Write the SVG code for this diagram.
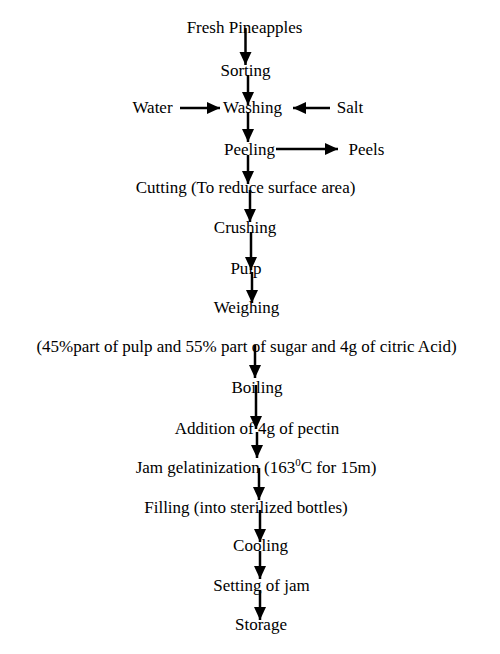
<svg xmlns="http://www.w3.org/2000/svg" width="500" height="654" viewBox="0 0 500 654">
<style>
text{font-family:"Liberation Serif","Times New Roman",serif;font-size:17px;fill:#000;text-anchor:middle}
.c line{stroke:#000;stroke-width:2.5;marker-end:url(#ah)}
</style>
<defs>
<marker id="ah" markerUnits="userSpaceOnUse" markerWidth="14" markerHeight="14" viewBox="0 0 14 14" refX="13" refY="7" orient="auto">
<path d="M0,1 L13,7 L0,13 Z" fill="#000"/>
</marker>
</defs>
<rect width="500" height="654" fill="#fff"/>
<g id="n1"><text x="244.5" y="32.5">Fresh Pineapples</text></g>
<g id="n2"><text x="245.5" y="75.5">Sorting</text></g>
<g id="n3"><text x="252.5" y="113">Washing</text></g>
<g id="n3a"><text x="152.5" y="113">Water</text></g>
<g id="n3b"><text x="350" y="113">Salt</text></g>
<g id="n4"><text x="249.5" y="154.5">Peeling</text></g>
<g id="n4a"><text x="366.5" y="154.5">Peels</text></g>
<g id="n5"><text x="245.5" y="193">Cutting (To reduce surface area)</text></g>
<g id="n6"><text x="245" y="233">Crushing</text></g>
<g id="n7"><text x="246" y="273.5">Pulp</text></g>
<g id="n8"><text x="246.5" y="312.5">Weighing</text></g>
<g id="n9"><text x="246.5" y="352">(45%part of pulp and 55% part of sugar and 4g of citric Acid)</text></g>
<g id="n10"><text x="257" y="393">Boiling</text></g>
<g id="n11"><text x="257" y="433.5">Addition of 4g of pectin</text></g>
<g id="n12"><text x="256" y="473">Jam gelatinization (163<tspan font-size="11" dy="-7">0</tspan><tspan dy="7">C for 15m)</tspan></text></g>
<g id="n13"><text x="246" y="513">Filling (into sterilized bottles)</text></g>
<g id="n14"><text x="260.5" y="551">Cooling</text></g>
<g id="n15"><text x="261.5" y="590.5">Setting of jam</text></g>
<g id="n16"><text x="261" y="630">Storage</text></g>
<g class="c" id="connectors">
<line x1="245.5" y1="28" x2="245.5" y2="65"/>
<line x1="248" y1="75" x2="248" y2="105"/>
<line x1="180" y1="108" x2="220" y2="108"/>
<line x1="330" y1="108" x2="293" y2="108"/>
<line x1="248" y1="112" x2="248" y2="142"/>
<line x1="276" y1="149" x2="338" y2="149"/>
<line x1="248" y1="155" x2="248" y2="184"/>
<line x1="250" y1="190" x2="250" y2="222"/>
<line x1="251" y1="232" x2="251" y2="270"/>
<line x1="252" y1="272" x2="252" y2="303"/>
<line x1="255" y1="345" x2="255" y2="378"/>
<line x1="256" y1="385" x2="256" y2="429"/>
<line x1="257" y1="432" x2="257" y2="458"/>
<line x1="259" y1="468" x2="259" y2="500"/>
<line x1="260" y1="510" x2="260" y2="542"/>
<line x1="260" y1="551" x2="260" y2="579"/>
<line x1="260" y1="590" x2="260" y2="620"/>
</g>
</svg>
